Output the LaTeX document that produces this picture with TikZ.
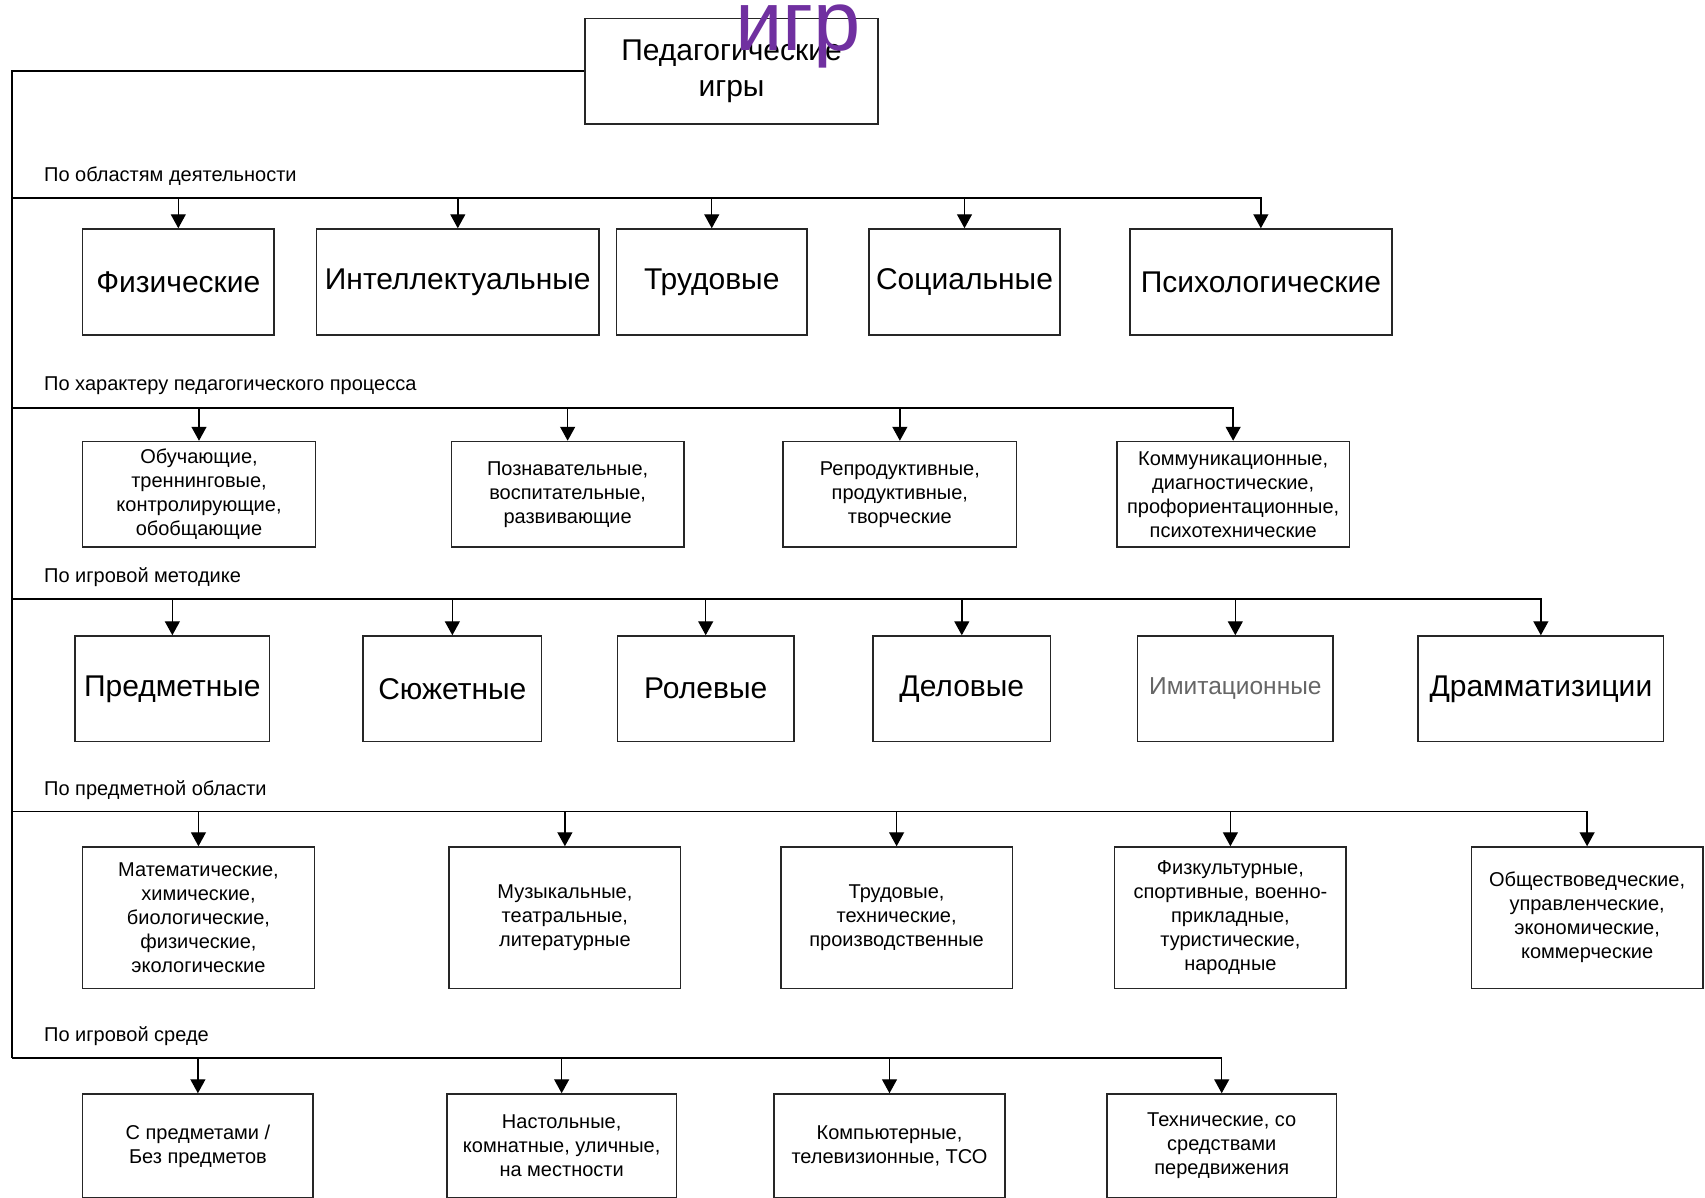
\documentclass[tikz,border=0pt]{standalone}
\usepackage{fontspec}
\setmainfont{Liberation Sans}
\usetikzlibrary{arrows.meta}
\definecolor{igrpurple}{HTML}{7030A0}
\tikzset{
  bx/.style={draw=black!85, line width=1.5pt, inner sep=0pt, align=center},
  bigtxt/.style={font=\fontsize{30}{36}\selectfont},
  smalltxt/.style={font=\fontsize{20}{24}\selectfont},
  lbl/.style={font=\fontsize{20}{24}\selectfont, anchor=west, inner sep=0pt},
  ln/.style={line width=1.4pt},
  arr/.style={ln, -{Triangle[length=14pt,width=15pt]}},
}
\begin{document}
\begin{tikzpicture}[x=1pt,y=-1pt]
\useasboundingbox (0,0) rectangle (1705,1197);
\clip (0,0) rectangle (1705,1197);

% top box
\node[bx, bigtxt, minimum width=293pt, minimum height=105.5pt] (top) at (731.5,71) {Педагогические\\игры};

% spine coordinates
\coordinate (s0) at (12,71);
\coordinate (s1) at (12,198);
\coordinate (s2) at (12,407.8);
\coordinate (s3) at (12,599);
\coordinate (s4) at (12,811.2);
\coordinate (s5) at (12,1058);

% section labels
\node[lbl] (l1) at (44,176) {По областям деятельности};
\node[lbl] (l2) at (44,386) {По характеру педагогического процесса};
\node[lbl] (l3) at (44,577.4) {По игровой методике};
\node[lbl] (l4) at (44,790.5) {По предметной области};
\node[lbl] (l5) at (44,1036.3) {По игровой среде};

% section 1
\node[bx, bigtxt, minimum width=191.4pt, minimum height=106pt] (b11) at (178.3,282) {Физические};
\node[bx, bigtxt, minimum width=282.8pt, minimum height=106pt] (b12) at (457.8,282) {Интеллектуальные};
\node[bx, bigtxt, minimum width=190.3pt, minimum height=106pt] (b13) at (711.75,282) {Трудовые};
\node[bx, bigtxt, minimum width=191.4pt, minimum height=106pt] (b14) at (964.5,282) {Социальные};
\node[bx, bigtxt, minimum width=262.1pt, minimum height=106pt] (b15) at (1260.85,282) {Психологические};

% section 2
\node[bx, smalltxt, minimum width=232.7pt, minimum height=105.5pt] (b21) at (199,494.25) {Обучающие,\\треннинговые,\\контролирующие,\\обобщающие};
\node[bx, smalltxt, minimum width=232.7pt, minimum height=105.5pt] (b22) at (567.65,494.25) {Познавательные,\\воспитательные,\\развивающие};
\node[bx, smalltxt, minimum width=233.7pt, minimum height=105.5pt] (b23) at (899.85,494.25) {Репродуктивные,\\продуктивные,\\творческие};
\node[bx, smalltxt, minimum width=232.7pt, minimum height=105.5pt] (b24) at (1233.15,494.25) {Коммуникационные,\\диагностические,\\профориентационные,\\психотехнические};

% section 3
\node[bx, bigtxt, minimum width=194.7pt, minimum height=105.6pt] (b31) at (172.35,688.8) {Предметные};
\node[bx, bigtxt, minimum width=178.3pt, minimum height=105.6pt] (b32) at (452.35,688.8) {Сюжетные};
\node[bx, bigtxt, minimum width=176.2pt, minimum height=105.6pt] (b33) at (705.7,688.8) {Ролевые};
\node[bx, bigtxt, minimum width=177.2pt, minimum height=105.6pt] (b34) at (961.8,688.8) {Деловые};
\node[bx, font=\fontsize{24.5}{30}\selectfont, text=black!60, minimum width=195.8pt, minimum height=105.6pt] (b35) at (1235.3,688.8) {Имитационные};
\node[bx, bigtxt, minimum width=245.7pt, minimum height=105.6pt] (b36) at (1540.85,688.8) {Драмматизиции};

% section 4
\node[bx, smalltxt, minimum width=231.7pt, minimum height=141.4pt] (b41) at (198.45,917.7) {Математические,\\химические,\\биологические,\\физические,\\экологические};
\node[bx, smalltxt, minimum width=231.6pt, minimum height=141.4pt] (b42) at (564.9,917.7) {Музыкальные,\\театральные,\\литературные};
\node[bx, smalltxt, minimum width=231.6pt, minimum height=141.4pt] (b43) at (896.6,917.7) {Трудовые,\\технические,\\производственные};
\node[bx, smalltxt, minimum width=231.6pt, minimum height=141.4pt] (b44) at (1230.4,917.7) {Физкультурные,\\спортивные, военно-\\прикладные,\\туристические,\\народные};
\node[bx, smalltxt, minimum width=231.6pt, minimum height=141.4pt] (b45) at (1587.1,917.7) {Обществоведческие,\\управленческие,\\экономические,\\коммерческие};

% section 5
\node[bx, smalltxt, minimum width=230.6pt, minimum height=104pt] (b51) at (197.9,1146) {С предметами /\\Без предметов};
\node[bx, smalltxt, minimum width=229.5pt, minimum height=104pt] (b52) at (561.65,1146) {Настольные,\\комнатные, уличные,\\на местности};
\node[bx, smalltxt, minimum width=230.6pt, minimum height=104pt] (b53) at (889.5,1146) {Компьютерные,\\телевизионные, ТСО};
\node[bx, smalltxt, minimum width=229.4pt, minimum height=104pt] (b54) at (1221.7,1146) {Технические, со\\средствами\\передвижения};

% spine
\draw[ln] (top.west) -- (s0) -- (s5);

% section 1 connectors
\draw[arr] (s1) -| (b15.north);
\foreach \b in {b11,b12,b13,b14} \draw[arr] (\b.north |- s1) -- (\b.north);
% section 2 connectors
\draw[arr] (s2) -| (b24.north);
\foreach \b in {b21,b22,b23} \draw[arr] (\b.north |- s2) -- (\b.north);
% section 3 connectors
\draw[arr] (s3) -| (b36.north);
\foreach \b in {b31,b32,b33,b34,b35} \draw[arr] (\b.north |- s3) -- (\b.north);
% section 4 connectors
\draw[arr] (s4) -| (b45.north);
\foreach \b in {b41,b42,b43,b44} \draw[arr] (\b.north |- s4) -- (\b.north);
% section 5 connectors
\draw[arr] (s5) -| (b54.north);
\foreach \b in {b51,b52,b53} \draw[arr] (\b.north |- s5) -- (\b.north);

% purple overlay title
\node[font=\fontsize{85}{95}\selectfont, text=igrpurple, anchor=base, inner sep=0pt] (ttl) at (798,50) {игр};
\end{tikzpicture}
\end{document}
